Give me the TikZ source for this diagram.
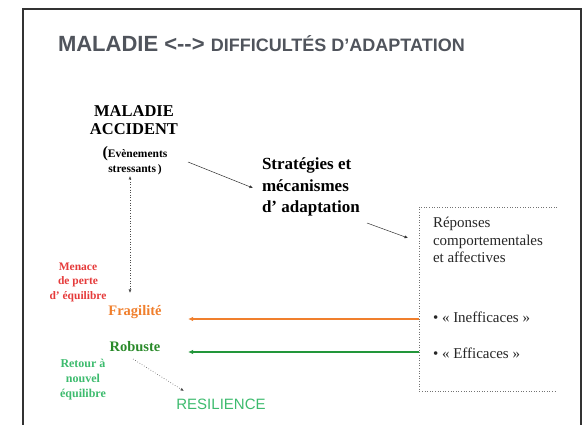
\documentclass[tikz,border=0pt]{standalone}
\usepackage{fontspec}
\setmainfont{Liberation Serif}
\newfontfamily\arialf{Liberation Sans}
\usetikzlibrary{arrows.meta}
\definecolor{titlegray}{HTML}{50545C}
\definecolor{menred}{HTML}{E53B3B}
\definecolor{fragorange}{HTML}{F07F2D}
\definecolor{robgreen}{HTML}{2A8A2A}
\definecolor{arrgreen}{HTML}{22963A}
\definecolor{resgreen}{HTML}{3DBB6E}
\definecolor{framegray}{HTML}{333333}
\begin{document}
\begin{tikzpicture}[x=1pt,y=-1pt,
  txt/.style={inner sep=0pt, outer sep=0pt},
  thinarrow/.style={draw=black!80, line width=0.5pt, -{Latex[length=3.5pt,width=3pt]}},
  colarrow/.style={line width=1.6pt, -{Latex[length=5pt,width=4.5pt]}},
  dotline/.style={draw=black!70, line width=0.6pt, dotted}]
\useasboundingbox (0,0) rectangle (582,425);
% frame
\draw[framegray, line width=1.2pt] (23,426) -- (23,9) -- (581,9) -- (581,426);
% title
\node[txt, anchor=west, text=titlegray] (title) at (58,44)
  {\arialf\bfseries\fontsize{22}{22}\selectfont MALADIE <-{}-> \fontsize{18}{18}\selectfont DIFFICULTÉS D’ADAPTATION};
% left block
\node[txt, align=center, font=\bfseries\fontsize{16.5}{18}\selectfont] (mal) at (134,120) {MALADIE\\ACCIDENT};
\node[txt, align=center, font=\bfseries\fontsize{11.5}{15}\selectfont] (evt) at (135,161)
  {{\fontsize{16}{15}\selectfont(}Evènements\\stressants\,)};
\node[txt, anchor=west, align=left, font=\bfseries\fontsize{17}{21.5}\selectfont] (strat) at (262,187)
  {Stratégies et\\mécanismes\\d’ adaptation};
% box
\draw[dotline, draw=black!55] (557,207) -- (419,207) -- (419,391) -- (557,391);
\coordinate (boxw1) at (419,319);
\coordinate (boxw2) at (419,352);
\node[txt, anchor=west, align=left, font=\fontsize{15}{17.5}\selectfont, text=black!85] (rep) at (433,240)
  {Réponses\\comportementales\\et affectives};
\node[txt, anchor=west, font=\fontsize{15}{17}\selectfont, text=black!85] (ineff) at (433,317) {• « Inefficaces »};
\node[txt, anchor=west, font=\fontsize{15}{17}\selectfont, text=black!85] (eff) at (433,353) {• « Efficaces »};
% lower left
\node[txt, align=center, text=menred, font=\bfseries\fontsize{11.5}{14.5}\selectfont] (men) at (78,282)
  {Menace\\de perte\\d’ équilibre};
\node[txt, text=fragorange, font=\bfseries\fontsize{14.5}{15}\selectfont] (frag) at (135,312) {Fragilité};
\node[txt, text=robgreen, font=\bfseries\fontsize{14.5}{15}\selectfont] (rob) at (135,347) {Robuste};
\node[txt, align=center, text=resgreen, font=\bfseries\fontsize{12}{15}\selectfont] (ret) at (83,380)
  {Retour à\\nouvel\\équilibre};
\node[txt, text=resgreen, font=\arialf\fontsize{15}{15}\selectfont] (res) at (221,404) {RESILIENCE};
% connector ends
\coordinate (a1) at (188,162);
\coordinate (a2) at (253,188);
\coordinate (b1) at (367,223);
\coordinate (b2) at (408,238);
\coordinate (v1) at (130,176);
\coordinate (v2) at (130,293);
\coordinate (fragend) at (188,319);
\coordinate (robend) at (188,352);
\coordinate (r1) at (133,359);
\coordinate (r2) at (184,391);
% connectors
\draw[thinarrow] (a1) -- (a2);
\draw[thinarrow] (b1) -- (b2);
\draw[dotline, {Latex[length=3.5pt,width=3pt]}-{Latex[length=3.5pt,width=3pt]}] (v1) -- (v2);
\draw[colarrow, fragorange] (boxw1) -- (fragend);
\draw[colarrow, arrgreen] (boxw2) -- (robend);
\draw[dotline, -{Latex[length=3.5pt,width=3pt]}] (r1) -- (r2);
\end{tikzpicture}
\end{document}
